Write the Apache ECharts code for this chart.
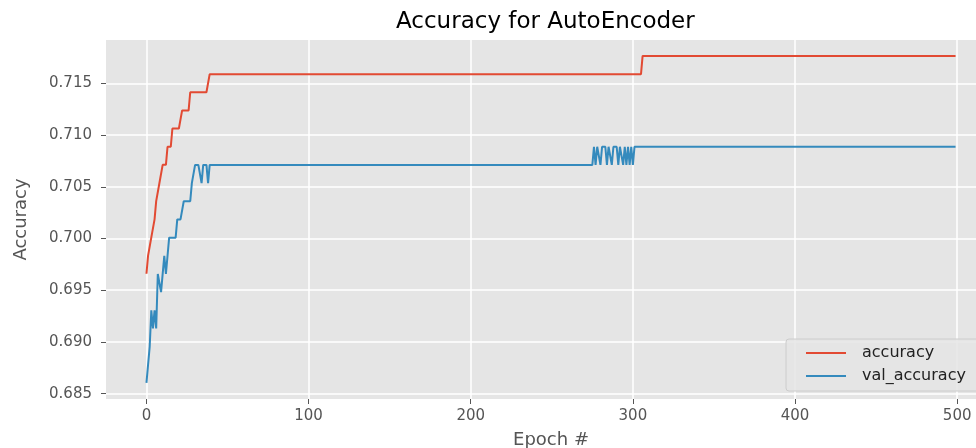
<!DOCTYPE html>
<html>
<head>
<meta charset="utf-8">
<script src="https://cdn.jsdelivr.net/npm/echarts/dist/echarts.min.js"></script>
<style>
  html, body { margin: 0; padding: 0; background: #ffffff; overflow: hidden; }
  #chart { width: 1000px; height: 448px; }
</style>
</head>
<body>
<div id="chart"></div>
<script>
// ---- data (run-length lists: [value, number of consecutive epochs]) ----
const accuracyRuns = [
  [0.69659, 1], [0.69834, 2], [0.70010, 2], [0.70185, 1], [0.70361, 2],
  [0.70536, 2], [0.70712, 3], [0.70887, 3], [0.71063, 6], [0.71238, 5],
  [0.71414, 12], [0.71589, 267], [0.71765, 194]
];
const valAccuracyRuns = [
  [0.68604, 1], [0.68780, 1], [0.68955, 1], [0.69306, 1], [0.69131, 1],
  [0.69306, 1], [0.69131, 1], [0.69657, 2], [0.69482, 1], [0.69657, 1],
  [0.69833, 1], [0.69657, 1], [0.69833, 1], [0.70008, 5], [0.70184, 4],
  [0.70360, 5], [0.70535, 2], [0.70711, 4], [0.70535, 1], [0.70711, 3],
  [0.70535, 1], [0.70711, 237],
  [0.70887, 1], [0.70711, 1], [0.70887, 2], [0.70711, 1], [0.70887, 3],
  [0.70711, 1], [0.70887, 2], [0.70711, 1], [0.70887, 3], [0.70711, 1],
  [0.70887, 2], [0.70711, 1], [0.70887, 1], [0.70711, 1], [0.70887, 1],
  [0.70711, 1], [0.70887, 1], [0.70711, 1], [0.70887, 199]
];
const seriesNames = ['accuracy', 'val_accuracy'];
const xTicks = [0, 100, 200, 300, 400, 500];
const yTicks = [0.685, 0.690, 0.695, 0.700, 0.705, 0.710, 0.715];
const titleText = 'Accuracy for AutoEncoder';
const xName = 'Epoch #';
const yName = 'Accuracy';

function expandRuns(runs) {
  const out = [];
  runs.forEach(([v, n]) => { for (let k = 0; k < n; k++) out.push(v); });
  return out;
}
const accuracy = expandRuns(accuracyRuns);
const valAccuracy = expandRuns(valAccuracyRuns);
const toPoints = arr => arr.map((v, i) => [i, v]);

const chart = echarts.init(document.getElementById('chart'), null, { renderer: 'canvas' });
const FONT = 'DejaVu Sans';
const option = {
  animation: false,
  backgroundColor: '#ffffff',
  title: {
    text: titleText,
    left: 396,
    top: 11,
    padding: 0,
    textStyle: { fontFamily: FONT, fontSize: 23, fontWeight: 'normal', color: '#000000' }
  },
  legend: {
    orient: 'vertical',
    left: 786,
    top: 339,
    padding: [6, 30, 7, 20],
    itemGap: 7,
    itemWidth: 40,
    itemHeight: 2,
    icon: 'rect',
    backgroundColor: 'rgba(229,229,229,0.85)',
    borderColor: '#cccccc',
    borderWidth: 1,
    borderRadius: 3,
    textStyle: { fontFamily: FONT, fontSize: 16, color: '#222222', lineHeight: 16, padding: [0, 0, 0, 11] },
    data: seriesNames
  },
  grid: {
    left: 106,
    top: 40,
    width: 890,
    height: 359,
    outerBoundsMode: 'none',
    containLabel: false,
    show: true,
    backgroundColor: '#E5E5E5',
    borderWidth: 0
  },
  xAxis: {
    type: 'value',
    min: -24.95,
    max: 523.95,
    name: xName,
    nameLocation: 'middle',
    nameGap: 32,
    nameTextStyle: { fontFamily: FONT, fontSize: 18, color: '#555555' },
    axisLine: { show: false, onZero: false },
    axisTick: { show: true, customValues: xTicks, length: 5, lineStyle: { color: '#555555', width: 1 } },
    axisLabel: { customValues: xTicks, margin: 10, fontFamily: FONT, fontSize: 15, color: '#555555' },
    splitLine: { show: true, lineStyle: { color: '#ffffff', width: 1.5 } }
  },
  yAxis: {
    type: 'value',
    min: 0.68448,
    max: 0.71919,
    name: yName,
    nameLocation: 'middle',
    nameGap: 76,
    nameRotate: 90,
    nameTextStyle: { fontFamily: FONT, fontSize: 18, color: '#555555' },
    axisLine: { show: false, onZero: false },
    axisTick: { show: true, customValues: yTicks, length: 5, lineStyle: { color: '#555555', width: 1 } },
    axisLabel: {
      customValues: yTicks, margin: 14, fontFamily: FONT, fontSize: 15, color: '#555555',
      formatter: v => v.toFixed(3)
    },
    splitLine: { show: true, lineStyle: { color: '#ffffff', width: 1.5 } }
  },
  series: [
    {
      name: seriesNames[0], type: 'line', data: toPoints(accuracy), showSymbol: false,
      lineStyle: { color: '#E24A33', width: 2 }, itemStyle: { color: '#E24A33' }, z: 2
    },
    {
      name: seriesNames[1], type: 'line', data: toPoints(valAccuracy), showSymbol: false,
      lineStyle: { color: '#348ABD', width: 2 }, itemStyle: { color: '#348ABD' }, z: 3
    }
  ]
};
chart.setOption(option);
</script>
</body>
</html>
